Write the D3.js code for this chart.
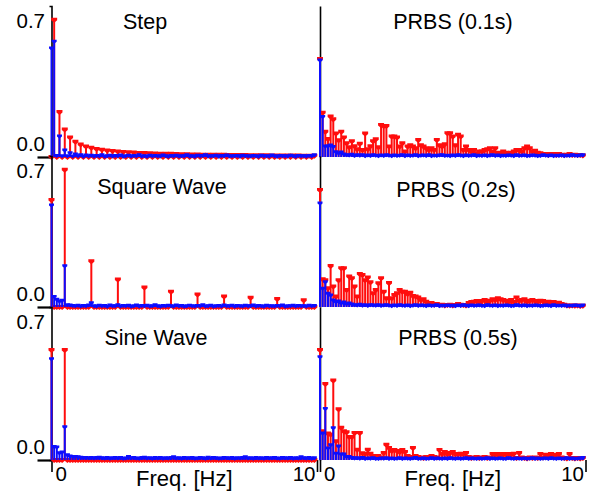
<!DOCTYPE html>
<html>
<head>
<meta charset="utf-8">
<script src="https://cdn.jsdelivr.net/npm/d3@7"></script>
<style>
  body { margin: 0; background: #fff; }
  svg { display: block; font-family: "Liberation Sans", Arial, sans-serif; }
</style>
</head>
<body>
<div id="chart"></div>
<script>
// frequency grid, 0.0 .. 9.9 Hz in 0.1 Hz steps
const freqs = d3.range(100).map(k => k / 10);

// red = input spectrum, blue = output spectrum
const stepRed = [
  0,.70,0,.23,0,.14,0,.10,0,.078,
  0,.064,0,.054,0,.047,0,.041,0,.037,
  0,.033,0,.030,0,.028,0,.026,0,.024,
  0,.023,0,.021,0,.020,0,.019,0,.018,
  0,.017,0,.016,0,.016,0,.015,0,.014,
  0,.014,0,.013,0,.013,0,.012,0,.012,
  0,.011,0,.011,0,.011,0,.010,0,.010,
  0,.010,0,.010,0,.009,0,.009,0,.009,
  0,.009,0,.008,0,.008,0,.008,0,.008,
  0,.008,0,.008,0,.007,0,.007,0,.007];
const stepBlue = [
  .556,.59,.008,.107,.006,.036,.006,.022,.005,.015,
  .006,.012,.004,.010,.007,.009,.005,.008,.006,.011,
  .004,.007,.009,.005,.008,.006,.010,.004,.007,.009,
  .005,.008,.006,.012,.005,.007,.004,.009,.006,.008,
  .007,.005,.010,.006,.004,.008,.006,.009,.005,.007,
  .006,.011,.005,.007,.004,.009,.006,.008,.012,.005,
  .007,.006,.009,.004,.008,.006,.010,.005,.007,.006,
  .008,.004,.009,.006,.007,.005,.008,.006,.004,.009,
  .006,.007,.005,.010,.006,.004,.008,.006,.007,.005,
  .009,.006,.004,.008,.006,.007,.005,.008,.006,.012];

const squareRed = [
  .546,0,0,0,0,.70,0,0,0,0,
  0,0,0,0,0,.233,0,0,0,0,
  0,0,0,0,0,.14,0,0,0,0,
  0,0,0,0,0,.10,0,0,0,0,
  0,0,0,0,0,.078,0,0,0,0,
  0,0,0,0,0,.064,0,0,0,0,
  0,0,0,0,0,.054,0,0,0,0,
  0,0,0,0,0,.047,0,0,0,0,
  0,0,0,0,0,.041,0,0,0,0,
  0,0,0,0,0,.035,0,0,0,0];
const squareBlue = [
  .52,.053,.04,.03,.035,.21,.012,.010,.008,.006,
  .009,.005,.008,.006,.010,.022,.007,.005,.009,.006,
  .008,.004,.010,.006,.007,.012,.005,.008,.006,.009,
  .004,.007,.010,.005,.008,.006,.009,.005,.007,.011,
  .006,.004,.008,.006,.009,.007,.005,.010,.006,.008,
  .004,.007,.009,.006,.005,.008,.006,.012,.005,.007,
  .009,.004,.006,.008,.005,.010,.007,.006,.009,.004,
  .008,.006,.005,.009,.007,.006,.010,.005,.008,.006,
  .004,.009,.006,.007,.005,.008,.006,.010,.004,.007,
  .006,.009,.005,.008,.006,.007,.005,.009,.006,.008];

const sineRed = [
  .553,0,0,0,0,.553,0,0,0,0,
  0,0,0,0,0,0,0,0,0,0,
  0,0,0,0,0,0,0,0,0,0,
  0,0,0,0,0,0,0,0,0,0,
  0,0,0,0,0,0,0,0,0,0,
  0,0,0,0,0,0,0,0,0,0,
  0,0,0,0,0,0,0,0,0,0,
  0,0,0,0,0,0,0,0,0,0,
  0,0,0,0,0,0,0,0,0,0,
  0,0,0,0,0,0,0,0,0,0];
const sineBlue = [
  .51,.068,.066,.037,.04,.167,.026,.02,.018,.018,
  .016,.014,.012,.013,.011,.012,.010,.012,.014,.011,
  .010,.012,.009,.011,.013,.010,.012,.009,.010,.018,
  .011,.012,.010,.009,.012,.014,.010,.011,.009,.012,
  .010,.013,.009,.011,.010,.012,.016,.010,.011,.009,
  .012,.010,.011,.013,.009,.010,.012,.011,.009,.014,
  .010,.012,.011,.009,.010,.013,.011,.010,.012,.009,
  .011,.010,.013,.016,.010,.011,.009,.012,.010,.011,
  .009,.012,.010,.011,.013,.010,.009,.012,.011,.010,
  .012,.009,.011,.010,.016,.011,.010,.012,.009,.011];

const prbs01Red = [
  .50,.226,.129,.092,.206,.192,.12,.085,.129,.10,
  .07,.05,.08,.055,.04,.068,.036,.12,.04,.055,
  .08,.09,.05,.163,.158,.158,.054,.104,.104,.10,
  .054,.07,.028,.054,.06,.054,.045,.087,.06,.054,
  .045,.036,.045,.036,.087,.06,.054,.065,.121,.121,
  .104,.06,.113,.104,.036,.054,.036,.028,.036,.019,
  .028,.028,.036,.04,.045,.028,.045,.022,.019,.028,
  .022,.015,.022,.028,.036,.036,.028,.045,.054,.045,
  .028,.032,.022,.019,.015,.015,.010,.015,.015,.010,
  .015,.012,.010,.012,.015,.010,.012,.010,.010,.008];
const prbs01Blue = [
  .495,.206,.056,.056,.061,.053,.027,.02,.025,.015,
  .012,.010,.014,.008,.011,.009,.012,.007,.010,.008,
  .011,.009,.007,.010,.008,.012,.009,.007,.010,.008,
  .009,.011,.007,.010,.008,.009,.012,.007,.009,.010,
  .008,.011,.007,.009,.008,.010,.012,.008,.009,.007,
  .010,.008,.011,.009,.007,.010,.008,.009,.011,.007,
  .009,.008,.010,.007,.009,.011,.008,.010,.007,.009,
  .008,.010,.009,.007,.011,.008,.009,.010,.007,.008,
  .010,.009,.007,.008,.011,.009,.008,.010,.007,.009,
  .008,.010,.007,.009,.008,.011,.009,.008,.010,.012];

const prbs02Red = [
  .597,.141,.136,.095,.209,.104,.053,.136,.197,.197,
  .087,.155,.146,.104,.053,.168,.163,.136,.15,.126,
  .07,.087,.121,.146,.078,.044,.123,.044,.061,.07,
  .087,.078,.078,.066,.073,.056,.053,.048,.036,.04,
  .027,.015,.02,.012,.015,.01,.012,.008,.01,.012,
  .008,.01,.015,.012,.01,.008,.02,.025,.027,.03,
  .025,.03,.036,.027,.032,.04,.036,.044,.04,.036,
  .032,.027,.036,.025,.048,.03,.036,.04,.027,.032,
  .036,.03,.027,.032,.03,.025,.027,.02,.025,.02,
  .022,.015,.012,.008,.006,.008,.006,.008,.005,.006];
const prbs02Blue = [
  .53,.095,.129,.07,.061,.036,.027,.03,.02,.025,
  .017,.02,.015,.012,.010,.014,.009,.011,.008,.012,
  .010,.009,.011,.008,.010,.012,.009,.007,.010,.008,
  .011,.009,.008,.010,.007,.009,.011,.008,.010,.009,
  .007,.010,.008,.009,.011,.007,.009,.008,.010,.008,
  .009,.007,.010,.008,.011,.009,.007,.010,.008,.009,
  .010,.008,.007,.011,.009,.008,.010,.007,.009,.008,
  .010,.009,.007,.008,.011,.009,.008,.010,.007,.009,
  .008,.010,.009,.007,.008,.010,.009,.007,.011,.008,
  .009,.008,.010,.007,.009,.008,.010,.009,.007,.010];

const prbs05Red = [
  .553,.145,.383,.133,.128,.40,.094,.255,.162,.145,
  .14,.116,.116,.136,.051,.136,.034,.03,.051,.032,
  .02,.015,.02,.012,.035,.077,.06,.045,.05,.045,
  .04,.05,.04,.02,.015,.06,.02,.015,.012,.01,
  .015,.012,.02,.015,.012,.05,.03,.04,.03,.035,
  .04,.03,.03,.032,.03,.035,.015,.01,.012,.015,
  .01,.012,.015,.01,.012,.03,.025,.03,.027,.03,
  .025,.03,.027,.032,.01,.035,.012,.01,.008,.012,
  .01,.012,.01,.03,.012,.027,.025,.03,.027,.025,
  .03,.012,.01,.008,.03,.01,.008,.01,.008,.01];
const prbs05Blue = [
  .519,.136,.259,.06,.077,.162,.034,.071,.03,.03,
  .017,.017,.012,.010,.011,.009,.012,.008,.010,.009,
  .011,.008,.007,.010,.009,.011,.008,.010,.007,.009,
  .011,.008,.010,.009,.007,.010,.012,.008,.009,.010,
  .007,.009,.011,.008,.010,.009,.007,.010,.008,.011,
  .009,.008,.010,.007,.009,.011,.008,.010,.009,.007,
  .010,.008,.009,.011,.007,.010,.008,.009,.010,.008,
  .007,.011,.009,.008,.010,.009,.007,.010,.008,.009,
  .011,.008,.010,.007,.009,.010,.008,.011,.009,.007,
  .010,.008,.009,.011,.007,.010,.008,.009,.010,.012];

const titles = ["Step", "PRBS (0.1s)", "Square Wave", "PRBS (0.2s)", "Sine Wave", "PRBS (0.5s)"];
const yTicks = [0, 0.7];
const xTicks = [0, 10];

const panels = [
  { title: titles[0], red: stepRed,   blue: stepBlue,   row: 0, col: 0, tx: 145, ty: 29 },
  { title: titles[1], red: prbs01Red, blue: prbs01Blue, row: 0, col: 1, tx: 453, ty: 29 },
  { title: titles[2], red: squareRed, blue: squareBlue, row: 1, col: 0, tx: 162, ty: 194 },
  { title: titles[3], red: prbs02Red, blue: prbs02Blue, row: 1, col: 1, tx: 456, ty: 197 },
  { title: titles[4], red: sineRed,   blue: sineBlue,   row: 2, col: 0, tx: 156, ty: 345 },
  { title: titles[5], red: prbs05Red, blue: prbs05Blue, row: 2, col: 1, tx: 458, ty: 345 }
];

const width = 596, height = 493;
const rowTop = [6, 156, 307];
const rowBase = [157, 307, 460];
const colRange = [[51.5, 317], [320, 585.5]];

const redColor = "#ff0d0d";
const blueColor = "#0d0dff";
const redMarker = "M-3,-2H3V0.5L0,3L-3,0.5Z";
const blueMarker = "M-2.5,-1.5H2.5V0.5L0,2.5L-2.5,0.5Z";

const svg = d3.select("#chart").append("svg")
  .attr("width", width)
  .attr("height", height);

panels.forEach(p => {
  const x = d3.scaleLinear().domain([0, 10]).range(colRange[p.col]);
  const y = d3.scaleLinear().domain([0, 0.77]).range([rowBase[p.row], rowTop[p.row]]);
  const g = svg.append("g");

  // y axis (labels only on the left column)
  const yAxis = d3.axisLeft(y);
  if (p.col === 0) {
    yAxis.tickValues(yTicks).tickSize(14).tickSizeOuter(2).tickFormat(d3.format(".1f"));
  } else {
    yAxis.tickValues([]).tickSizeOuter(0);
  }
  const ya = g.append("g")
    .attr("transform", `translate(${x(0)},0)`)
    .attr("font-family", null)
    .call(yAxis);
  ya.select(".domain").attr("stroke-width", 1.6);
  ya.selectAll(".tick line")
    .attr("stroke-width", 2.2)
    .attr("display", d => d === 0 ? null : "none");
  ya.selectAll(".tick text")
    .attr("x", -6.5)
    .attr("y", d => d === 0 ? -14 : 0)
    .attr("dy", "0.36em")
    .attr("fill", "#000")
    .style("font-size", "20.5px");

  // x axis only on the bottom row
  if (p.row === 2) {
    const xa = g.append("g")
      .attr("transform", `translate(0,${rowBase[p.row]})`)
      .attr("font-family", null)
      .call(d3.axisBottom(x).tickValues(xTicks).tickSize(12).tickSizeOuter(0).tickFormat(d3.format("d")));
    xa.select(".domain").remove();
    xa.selectAll(".tick line").attr("stroke-width", 1.6);
    xa.selectAll(".tick text")
      .attr("y", 6)
      .attr("x", d => d === 0 ? 3.5 : -2)
      .attr("text-anchor", d => d === 0 ? "start" : "end")
      .attr("fill", "#000")
      .style("font-size", "20.5px");

    g.append("text")
      .attr("x", (x(0) + x(10)) / 2)
      .attr("y", 486)
      .attr("text-anchor", "middle")
      .style("font-size", "22px")
      .text("Freq. [Hz]");
  }

  const data = freqs.map((f, i) => ({ f: f, r: p.red[i], b: p.blue[i] }));

  // red stems + markers
  g.append("g").selectAll("line")
    .data(data)
    .join("line")
    .attr("x1", d => x(d.f))
    .attr("x2", d => x(d.f))
    .attr("y1", y(0))
    .attr("y2", d => y(d.r))
    .attr("stroke", redColor)
    .attr("stroke-width", 2);
  g.append("g").selectAll("path")
    .data(data)
    .join("path")
    .attr("d", redMarker)
    .attr("transform", d => `translate(${x(d.f)},${y(d.r)})`)
    .attr("fill", redColor);

  // blue stems + markers on top
  g.append("g").selectAll("line")
    .data(data)
    .join("line")
    .attr("x1", d => x(d.f))
    .attr("x2", d => x(d.f))
    .attr("y1", y(0))
    .attr("y2", d => y(d.b))
    .attr("stroke", blueColor)
    .attr("stroke-width", 2);
  g.append("g").selectAll("path")
    .data(data)
    .join("path")
    .attr("d", blueMarker)
    .attr("transform", d => `translate(${x(d.f)},${y(d.b)})`)
    .attr("fill", blueColor);

  // panel title
  g.append("text")
    .attr("x", p.tx)
    .attr("y", p.ty)
    .attr("text-anchor", "middle")
    .style("font-size", "21.5px")
    .text(p.title);
});
</script>
</body>
</html>
